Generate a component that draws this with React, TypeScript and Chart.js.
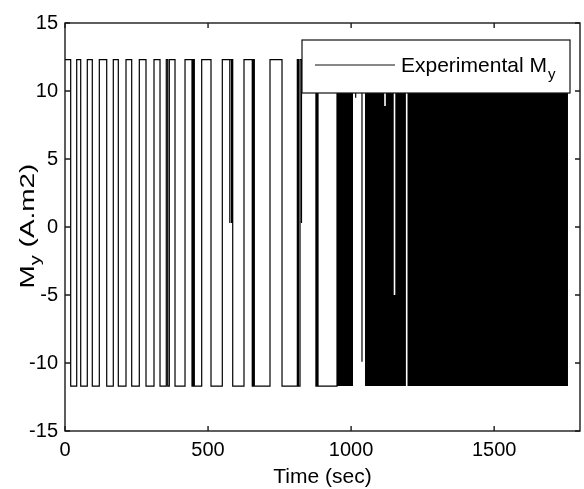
import React, { useEffect, useRef } from "react";
import { Chart, registerables } from "chart.js";
Chart.register(...registerables);

// Signal levels (A.m2)
const HIGH = 12.3;
const LOW = -11.7;

// Times (sec) where the sparse square wave switches level (starts HIGH at t=0)
const switchTimes = [
  19.9, 40.9, 54.9, 77.9, 95.4, 119.9, 145.8, 168.8, 186.3, 213.2, 233.1, 259.7,
  283.1, 311.1, 332.1, 354, 359, 364.6, 384.5, 419.5, 443.9, 448, 452, 477.8,
  510.3, 549.8, 586.2, 625.6, 654.5, 658, 661.7, 716.5, 758.5, 812, 816, 821.4,
  877, 881, 884.3, 950.7,
];
const pathEnd = 1048.6;

// Short spikes away from the current level
const dipTimes = [576, 582, 826.6, 1016, 1038];
const dipLevels = [0.3, 0.3, 0.3, 9.5, -9.9];

// Intervals of very rapid switching (drawn solid)
const blockStarts = [950.7, 1048.6];
const blockEnds = [1006.6, 1758];

// Brief pauses inside the rapid-switching interval
const gapTimes = [1118.5, 1151.7, 1194.3];
const gapBottoms = [8.9, -5.0, LOW];

const xTicks = [0, 500, 1000, 1500];
const yTicks = [-15, -10, -5, 0, 5, 10, 15];
const X_MIN = 0, X_MAX = 1800, Y_MIN = -15, Y_MAX = 15;

const FONT = '"Liberation Sans", Arial, Helvetica, sans-serif';

function buildPath() {
  type Ev = { t: number; kind: "s" | "d"; v?: number };
  const events: Ev[] = [
    ...switchTimes.map((t) => ({ t, kind: "s" as const })),
    ...dipTimes.map((t, i) => ({ t, kind: "d" as const, v: dipLevels[i] })),
  ].sort((a, b) => a.t - b.t);
  let level = HIGH;
  const pts: { x: number; y: number }[] = [{ x: 0, y: level }];
  for (const e of events) {
    if (e.kind === "s") {
      pts.push({ x: e.t, y: level });
      level = level === HIGH ? LOW : HIGH;
      pts.push({ x: e.t, y: level });
    } else {
      pts.push({ x: e.t, y: level }, { x: e.t, y: e.v as number }, { x: e.t, y: level });
    }
  }
  pts.push({ x: pathEnd, y: level });
  return pts;
}

const framePlugin = {
  id: "matlabFrame",
  afterDraw(chart: any) {
    const { ctx, chartArea: a, scales } = chart;
    const xs = scales.x, ys = scales.y;
    ctx.save();
    ctx.strokeStyle = "#1a1a1a";
    ctx.lineWidth = 1.4;
    ctx.strokeRect(a.left, a.top, a.right - a.left, a.bottom - a.top);
    const tl = 5;
    ctx.beginPath();
    xTicks.forEach((v) => {
      const px = xs.getPixelForValue(v);
      ctx.moveTo(px, a.bottom);
      ctx.lineTo(px, a.bottom - tl);
      ctx.moveTo(px, a.top);
      ctx.lineTo(px, a.top + tl);
    });
    yTicks.forEach((v) => {
      const py = ys.getPixelForValue(v);
      ctx.moveTo(a.left, py);
      ctx.lineTo(a.left + tl, py);
      ctx.moveTo(a.right, py);
      ctx.lineTo(a.right - tl, py);
    });
    ctx.stroke();

    // Legend box
    const lx = 302, ly = 40, lw = 268, lh = 53;
    ctx.fillStyle = "#fff";
    ctx.fillRect(lx, ly, lw, lh);
    ctx.lineWidth = 1.2;
    ctx.strokeStyle = "#111";
    ctx.strokeRect(lx, ly, lw, lh);
    ctx.beginPath();
    ctx.lineWidth = 1.2;
    ctx.moveTo(315, 65);
    ctx.lineTo(395, 65);
    ctx.stroke();
    ctx.fillStyle = "#000";
    ctx.textBaseline = "alphabetic";
    ctx.textAlign = "left";
    ctx.font = `21px ${FONT}`;
    const main = "Experimental M";
    ctx.fillText(main, 401, 72);
    const w1 = ctx.measureText(main).width;
    ctx.font = `15px ${FONT}`;
    ctx.fillText("y", 401 + w1 + 1, 79);

    // X title
    ctx.font = `21px ${FONT}`;
    ctx.textAlign = "center";
    ctx.fillText("Time (sec)", (a.left + a.right) / 2, 483);

    // Y title (rotated, glyphs widened along the text direction as in the source)
    ctx.save();
    ctx.translate(34, 226);
    ctx.rotate(-Math.PI / 2);
    ctx.scale(1.33, 1);
    ctx.textAlign = "left";
    ctx.font = `21px ${FONT}`;
    const wM = ctx.measureText("M").width;
    const rest = " (A.m2)";
    const wR = ctx.measureText(rest).width;
    ctx.font = `15px ${FONT}`;
    const wy = ctx.measureText("y").width;
    const total = wM + wy + wR;
    let cx = -total / 2;
    ctx.font = `21px ${FONT}`;
    ctx.fillText("M", cx, 0);
    cx += wM;
    ctx.font = `15px ${FONT}`;
    ctx.fillText("y", cx, 6);
    cx += wy;
    ctx.font = `21px ${FONT}`;
    ctx.fillText(rest, cx, 0);
    ctx.restore();

    ctx.restore();
  },
};

export default function App() {
  const ref = useRef<HTMLCanvasElement | null>(null);
  useEffect(() => {
    if (!ref.current) return;
    const datasets: any[] = [];
    gapTimes.forEach((t, i) => {
      datasets.push({
        data: [
          { x: t, y: HIGH },
          { x: t, y: gapBottoms[i] },
        ],
        borderColor: "#ffffff",
        borderWidth: 1.6,
        pointRadius: 0,
        fill: false,
        order: 1,
      });
    });
    datasets.push({
      data: buildPath(),
      borderColor: "#000",
      borderWidth: 1.2,
      pointRadius: 0,
      fill: false,
      tension: 0,
      order: 2,
    });
    blockStarts.forEach((s, i) => {
      datasets.push({
        data: [
          { x: s, y: HIGH },
          { x: blockEnds[i], y: HIGH },
        ],
        borderColor: "#000",
        backgroundColor: "#000",
        borderWidth: 1,
        pointRadius: 0,
        fill: { value: LOW },
        order: 3,
      });
    });

    const chart = new Chart(ref.current, {
      type: "line",
      data: { datasets },
      options: {
        animation: false,
        responsive: false,
        devicePixelRatio: 1,
        layout: { padding: { top: 23, right: 4, left: 0, bottom: 0 } },
        plugins: { legend: { display: false }, tooltip: { enabled: false } },
        scales: {
          x: {
            type: "linear",
            min: X_MIN,
            max: X_MAX,
            grid: { display: false, drawTicks: false },
            border: { display: false },
            afterFit: (s: any) => {
              s.height = 58;
            },
            afterBuildTicks: (s: any) => {
              s.ticks = xTicks.map((v) => ({ value: v }));
            },
            ticks: {
              padding: 7,
              color: "#000",
              font: { family: FONT, size: 20 },
              maxRotation: 0,
              callback: (v: any) => String(v),
            },
          },
          y: {
            type: "linear",
            min: Y_MIN,
            max: Y_MAX,
            grid: { display: false, drawTicks: false },
            border: { display: false },
            afterFit: (s: any) => {
              s.width = 65;
            },
            afterBuildTicks: (s: any) => {
              s.ticks = yTicks.map((v) => ({ value: v }));
            },
            ticks: {
              padding: 7,
              color: "#000",
              font: { family: FONT, size: 20 },
              callback: (v: any) => String(v),
            },
          },
        },
      },
      plugins: [framePlugin],
    });
    return () => chart.destroy();
  }, []);

  return (
    <div style={{ position: "absolute", left: 0, top: 0, width: 584, height: 489, background: "#fff" }}>
      <canvas ref={ref} width={584} height={489} />
    </div>
  );
}
